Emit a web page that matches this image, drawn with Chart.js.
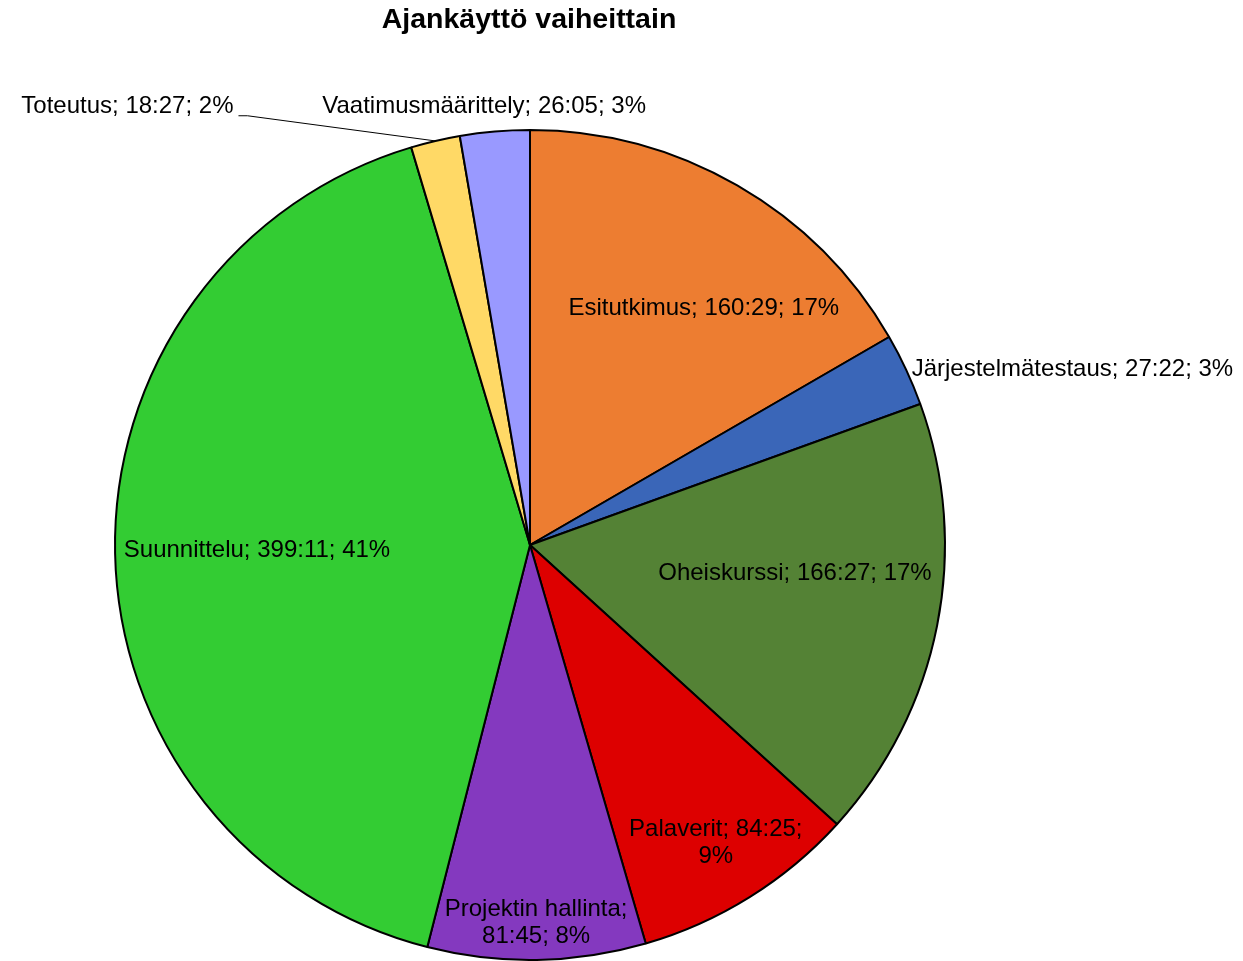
<!DOCTYPE html>
<html>
<head>
<meta charset="utf-8">
<script src="https://cdn.jsdelivr.net/npm/chart.js@4.4.1/dist/chart.umd.min.js"></script>
<style>
  html, body { margin: 0; padding: 0; background: #ffffff; }
  #wrap { position: relative; width: 1243px; height: 961px; }
</style>
</head>
<body>
<div id="wrap"><canvas id="c"></canvas></div>
<script>
// ---- Data ----
const chartTitle = "Ajankäyttö vaiheittain";
const categories = [
  "Esitutkimus",
  "Järjestelmätestaus",
  "Oheiskurssi",
  "Palaverit",
  "Projektin hallinta",
  "Suunnittelu",
  "Toteutus",
  "Vaatimusmäärittely"
];
const timeLabels = ["160:29", "27:22", "166:27", "84:25", "81:45", "399:11", "18:27", "26:05"];
const minutes = [9629, 1642, 9987, 5065, 4905, 23951, 1107, 1565];
const colors = ["#ED7D31", "#3A66B8", "#548235", "#DD0000", "#8439BF", "#33CC33", "#FFD966", "#9999FF"];

const total = minutes.reduce((a, b) => a + b, 0);
const percentLabels = minutes.map(v => Math.round(v / total * 100) + "%");

// Label layout relative to each slice: radius fraction, angle shift (deg), alignment, line split
const labelLayout = [
  { f: 0.708, da: 6.3, align: "center", lines: 1 },
  { f: 1.0, px: 5, da: 0.3, align: "left", lines: 1 },
  { f: 0.642, da: -5.2, align: "center", lines: 1 },
  { f: 0.846, da: 0, align: "center", lines: 2 },
  { f: 0.911, da: 0, align: "center", lines: 2 },
  { f: 0.658, da: 0, align: "center", lines: 1 },
  { f: 1.275, da: -20.9, align: "right", lines: 1, leader: true },
  { f: 1.063, da: -1.1, align: "center", lines: 1 }
];

const FONT = '24px "Liberation Sans", Arial, sans-serif';
const TITLE_FONT = 'bold 28.5px "Liberation Sans", Arial, sans-serif';

const labelPlugin = {
  id: "sliceLabels",
  afterDatasetsDraw(chart) {
    const ctx = chart.ctx;
    const meta = chart.getDatasetMeta(0);
    ctx.save();
    // title
    ctx.fillStyle = "#000";
    ctx.font = TITLE_FONT;
    ctx.textAlign = "center";
    ctx.textBaseline = "middle";
    const ca = chart.chartArea;
    ctx.fillText(chartTitle, (ca.left + ca.right) / 2 - 1, 20);

    ctx.font = FONT;
    meta.data.forEach((arc, i) => {
      const p = arc.getProps(["x", "y", "startAngle", "endAngle", "outerRadius"], true);
      const lay = labelLayout[i];
      const mid = (p.startAngle + p.endAngle) / 2;
      const ang = mid + lay.da * Math.PI / 180;
      const r = p.outerRadius * lay.f + (lay.px || 0);
      const x = p.x + Math.cos(ang) * r;
      const y = p.y + Math.sin(ang) * r;
      ctx.textAlign = lay.align;
      ctx.textBaseline = "middle";
      ctx.fillStyle = "#000";
      if (lay.lines === 2) {
        let l1, l2;
        if (i === 3) { l1 = categories[i] + "; " + timeLabels[i] + ";"; l2 = percentLabels[i]; }
        else { l1 = categories[i] + ";"; l2 = timeLabels[i] + "; " + percentLabels[i]; }
        ctx.fillText(l1, x, y - 13.5);
        ctx.fillText(l2, x, y + 13.5);
      } else {
        const txt = categories[i] + "; " + timeLabels[i] + "; " + percentLabels[i];
        ctx.fillText(txt, x, y);
      }
      if (lay.leader) {
        const ex = p.x + Math.cos(mid) * p.outerRadius;
        const ey = p.y + Math.sin(mid) * p.outerRadius;
        ctx.strokeStyle = "#000";
        ctx.lineWidth = 1;
        ctx.beginPath();
        ctx.moveTo(x + 5, y + 9);
        ctx.lineTo(x + 14, y + 9);
        ctx.lineTo(ex, ey);
        ctx.stroke();
      }
    });
    ctx.restore();
  }
};

new Chart(document.getElementById("c"), {
  type: "pie",
  data: {
    labels: categories,
    datasets: [{
      data: minutes,
      backgroundColor: colors,
      borderColor: "#000000",
      borderWidth: 2,
      borderAlign: "center"
    }]
  },
  options: {
    responsive: true,
    maintainAspectRatio: false,
    devicePixelRatio: 1,
    animation: false,
    layout: { padding: { top: 129, bottom: 0, left: 114, right: 297 } },
    plugins: {
      legend: { display: false },
      title: { display: false },
      tooltip: { enabled: false }
    }
  },
  plugins: [labelPlugin]
});
</script>
</body>
</html>
